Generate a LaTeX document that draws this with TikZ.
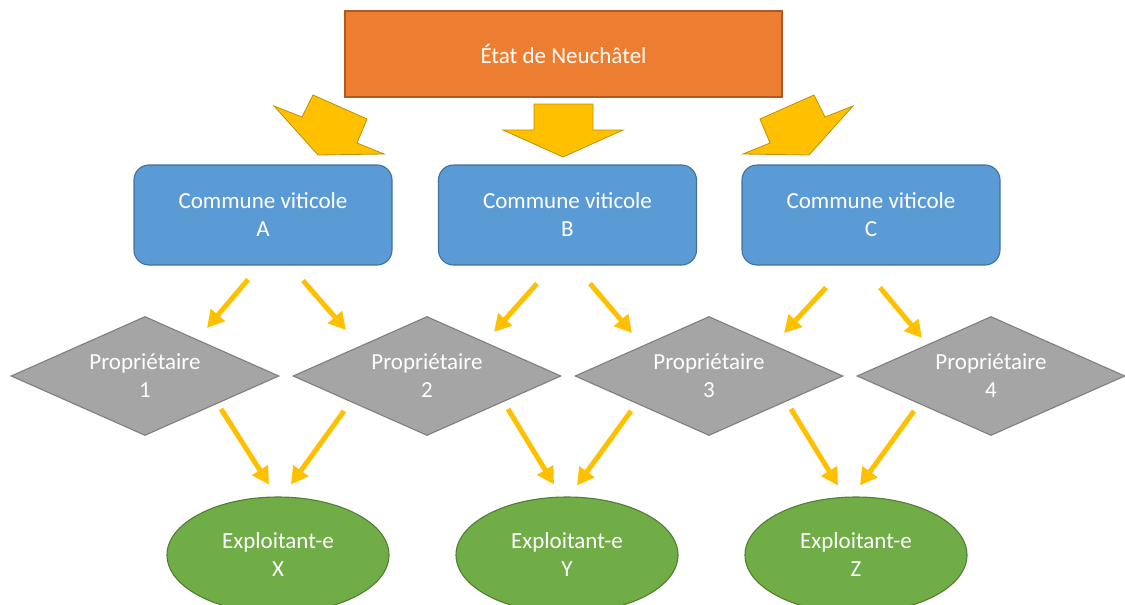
\documentclass[tikz,border=0pt]{standalone}
\usepackage{fontspec}
\setmainfont{Carlito}
\usetikzlibrary{shapes.geometric,arrows.meta,calc}
\definecolor{orng}{HTML}{ED7D31}
\definecolor{orngd}{HTML}{AE5A21}
\definecolor{blu}{HTML}{5B9BD5}
\definecolor{blud}{HTML}{41719C}
\definecolor{gry}{HTML}{A5A5A5}
\definecolor{gryd}{HTML}{7F7F7F}
\definecolor{grn}{HTML}{70AD47}
\definecolor{grnd}{HTML}{507E32}
\definecolor{gold}{HTML}{FFC000}
\definecolor{goldd}{HTML}{BF9000}
\tikzset{
  lbl/.style={text=white, align=center, font=\fontsize{23}{28}\selectfont, inner sep=0pt},
  statebox/.style={lbl, fill=orng, draw=orngd, line width=1.1pt, minimum width=437pt, minimum height=86pt},
  commbox/.style={lbl, fill=blu, draw=blud, line width=1.1pt, rounded corners=15pt, minimum width=258pt, minimum height=100pt},
  propbox/.style={lbl, diamond, aspect=2.25, fill=gry, draw=gryd, line width=1.1pt, minimum width=268pt, minimum height=119pt},
  explbox/.style={lbl, ellipse, fill=grn, draw=grnd, line width=1.1pt, minimum width=222pt, minimum height=116pt},
  bigarrow/.style={fill=gold, draw=goldd, line width=0.8pt, line join=miter},
  smallarrow/.style={draw=gold, line width=5pt, -{Triangle[length=17pt,width=18pt]}}
}
\begin{document}
\begin{tikzpicture}[x=1pt,y=-1pt]
\useasboundingbox (0,0) rectangle (1125,605);
\node[statebox] (E) at (563.5,54) {État de Neuchâtel};
\node[commbox] (A) at (263,215) {Commune viticole\\A};
\node[commbox] (B) at (567.5,215) {Commune viticole\\B};
\node[commbox] (C) at (871,215) {Commune viticole\\C};
\node[propbox] (P1) at (145,376) {Propriétaire\\1};
\node[propbox] (P2) at (427,376) {Propriétaire\\2};
\node[propbox] (P3) at (709,376) {Propriétaire\\3};
\node[propbox] (P4) at (991,376) {Propriétaire\\4};
\node[explbox] (X) at (278,555) {Exploitant-e\\X};
\node[explbox] (Y) at (567,555) {Exploitant-e\\Y};
\node[explbox] (Z) at (856,555) {Exploitant-e\\Z};
% big block arrows
\draw[bigarrow] (313,95) -- (367,119) -- (357,143) -- (384,154) -- (318,155) -- (274,106) -- (302,117) -- cycle;
\draw[bigarrow] (534,104) -- (593,104) -- (593,130) -- (623,130) -- (563,157) -- (503,130) -- (534,130) -- cycle;
\draw[bigarrow] (814,95) -- (760,119) -- (770,143) -- (743,154) -- (809,155) -- (853,106) -- (825,117) -- cycle;
% small arrows
\draw[smallarrow] ($(A.south)+(-15,14)$) -- ($(P1.north)+(62,12)$);
\draw[smallarrow] ($(A.south)+(40,15)$) -- ($(P2.north)+(-81,14)$);
\draw[smallarrow] ($(B.south)+(-30.5,18)$) -- ($(P2.north)+(67,16)$);
\draw[smallarrow] ($(B.south)+(22.5,18)$) -- ($(P3.north)+(-77,17)$);
\draw[smallarrow] ($(C.south)+(-45,22)$) -- ($(P3.north)+(75,17)$);
\draw[smallarrow] ($(C.south)+(9,22)$) -- ($(P4.north)+(-69,22)$);
\draw[smallarrow] ($(P1.center)+(76,33)$) -- ($(X.north)+(-9,-12)$);
\draw[smallarrow] ($(P2.center)+(-83,35)$) -- ($(X.north)+(13,-12)$);
\draw[smallarrow] ($(P2.center)+(81,33)$) -- ($(Y.north)+(-13,-12)$);
\draw[smallarrow] ($(P3.center)+(-78,35)$) -- ($(Y.north)+(10,-11)$);
\draw[smallarrow] ($(P3.center)+(82,33)$) -- ($(Z.north)+(-18,-11)$);
\draw[smallarrow] ($(P4.center)+(-77,35)$) -- ($(Z.north)+(4,-11)$);
\end{tikzpicture}
\end{document}
